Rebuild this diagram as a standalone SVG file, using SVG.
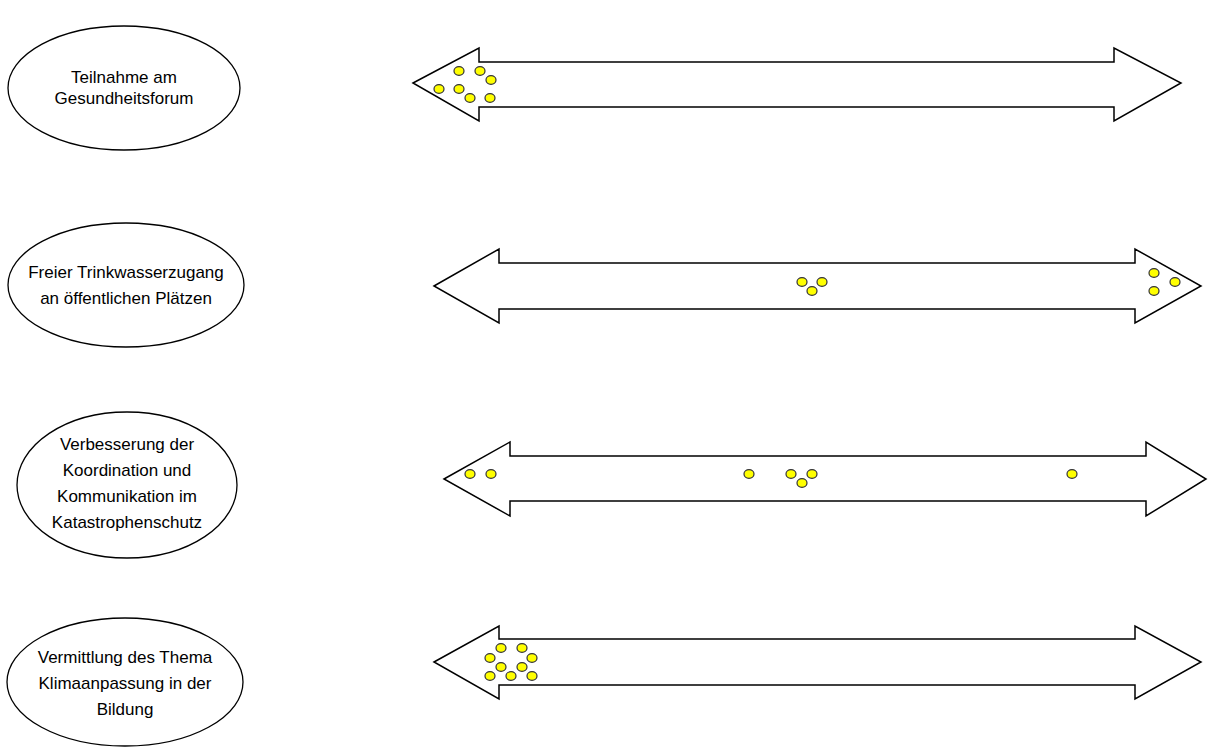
<svg xmlns="http://www.w3.org/2000/svg" width="1208" height="749" viewBox="0 0 1208 749">
<style>
.ell{fill:#fff;stroke:#000;stroke-width:1.3}
.arr{fill:#fff;stroke:#000;stroke-width:1.5;stroke-linejoin:miter}
.dot{fill:#ffff00;stroke:#333;stroke-width:1.2}
.t{font-family:"Liberation Sans",Arial,sans-serif;font-size:17px;fill:#000;text-anchor:middle}
</style>
<rect width="1208" height="749" fill="#fff"/>
<g id="node1">
<ellipse class="ell" cx="124" cy="88" rx="116" ry="62"/>
<text class="t" x="124" y="83">Teilnahme am</text>
<text class="t" x="124" y="104">Gesundheitsforum</text>
</g>
<g id="node2">
<ellipse class="ell" cx="126" cy="285" rx="118" ry="62"/>
<text class="t" x="126" y="278">Freier Trinkwasserzugang</text>
<text class="t" x="126" y="304">an öffentlichen Plätzen</text>
</g>
<g id="node3">
<ellipse class="ell" cx="127" cy="485" rx="110" ry="73"/>
<text class="t" x="127" y="450">Verbesserung der</text>
<text class="t" x="127" y="476">Koordination und</text>
<text class="t" x="127" y="502">Kommunikation im</text>
<text class="t" x="127" y="528">Katastrophenschutz</text>
</g>
<g id="node4">
<ellipse class="ell" cx="125" cy="682" rx="118" ry="64"/>
<text class="t" x="125" y="663">Vermittlung des Thema</text>
<text class="t" x="125" y="689">Klimaanpassung in der</text>
<text class="t" x="125" y="715">Bildung</text>
</g>
<g id="connectors">
<polygon class="arr" points="413,83 479,48 479,62 1114,62 1114,48 1181,83 1114,121 1114,107 479,107 479,121"/>
<polygon class="arr" points="434,286 499,249 499,263 1135,263 1135,249 1201,286 1135,323 1135,309 499,309 499,323"/>
<polygon class="arr" points="444,479 510,442 510,456 1146,456 1146,442 1206,479 1146,516 1146,501 510,501 510,516"/>
<polygon class="arr" points="434,662 499,626 499,639 1135,639 1135,626 1201,662 1135,699 1135,685 499,685 499,699"/>
</g>
<g id="dots">
<ellipse class="dot" cx="459" cy="71" rx="5" ry="4.3"/>
<ellipse class="dot" cx="480" cy="71" rx="5" ry="4.3"/>
<ellipse class="dot" cx="491" cy="80" rx="5" ry="4.3"/>
<ellipse class="dot" cx="439" cy="89" rx="5" ry="4.3"/>
<ellipse class="dot" cx="459" cy="89" rx="5" ry="4.3"/>
<ellipse class="dot" cx="470" cy="98" rx="5" ry="4.3"/>
<ellipse class="dot" cx="490" cy="98" rx="5" ry="4.3"/>

<ellipse class="dot" cx="802" cy="282" rx="5" ry="4.3"/>
<ellipse class="dot" cx="822" cy="282" rx="5" ry="4.3"/>
<ellipse class="dot" cx="812" cy="291" rx="5" ry="4.3"/>
<ellipse class="dot" cx="1154" cy="273" rx="5" ry="4.3"/>
<ellipse class="dot" cx="1175" cy="282" rx="5" ry="4.3"/>
<ellipse class="dot" cx="1154" cy="291" rx="5" ry="4.3"/>

<ellipse class="dot" cx="470" cy="474" rx="5" ry="4.3"/>
<ellipse class="dot" cx="491" cy="474" rx="5" ry="4.3"/>
<ellipse class="dot" cx="749" cy="474" rx="5" ry="4.3"/>
<ellipse class="dot" cx="791" cy="474" rx="5" ry="4.3"/>
<ellipse class="dot" cx="812" cy="474" rx="5" ry="4.3"/>
<ellipse class="dot" cx="802" cy="483" rx="5" ry="4.3"/>
<ellipse class="dot" cx="1072" cy="474" rx="5" ry="4.3"/>

<ellipse class="dot" cx="501" cy="648" rx="5" ry="4.3"/>
<ellipse class="dot" cx="522" cy="648" rx="5" ry="4.3"/>
<ellipse class="dot" cx="490" cy="658" rx="5" ry="4.3"/>
<ellipse class="dot" cx="532" cy="658" rx="5" ry="4.3"/>
<ellipse class="dot" cx="501" cy="667" rx="5" ry="4.3"/>
<ellipse class="dot" cx="522" cy="667" rx="5" ry="4.3"/>
<ellipse class="dot" cx="490" cy="676" rx="5" ry="4.3"/>
<ellipse class="dot" cx="511" cy="676" rx="5" ry="4.3"/>
<ellipse class="dot" cx="532" cy="676" rx="5" ry="4.3"/>
</g>
</svg>
